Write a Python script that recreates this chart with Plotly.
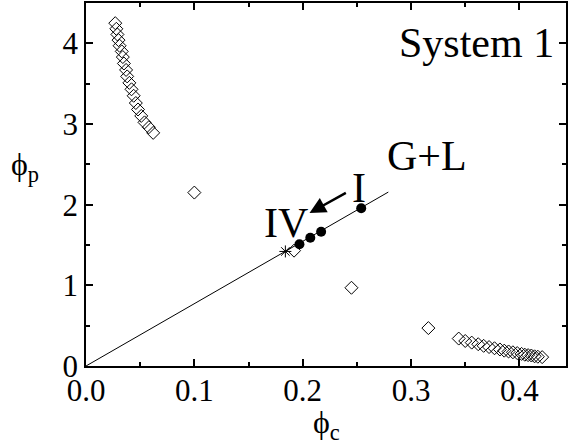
import plotly.graph_objects as go

# Top-left branch (open diamonds)
tl_x = [0.027, 0.028, 0.029, 0.030, 0.031, 0.033, 0.034, 0.035, 0.037, 0.038,
        0.040, 0.042, 0.044, 0.046, 0.048, 0.051, 0.054, 0.058, 0.062]
tl_y = [4.25, 4.18, 4.11, 4.04, 3.97, 3.90, 3.83, 3.75, 3.67, 3.59,
        3.51, 3.43, 3.35, 3.26, 3.18, 3.10, 3.02, 2.96, 2.89]

# Scattered isolated diamonds
iso_x = [0.100, 0.192, 0.245, 0.316]
iso_y = [2.15, 1.43, 0.97, 0.47]

# Bottom-right branch (open diamonds)
br_x = [0.344, 0.350, 0.356, 0.362, 0.367, 0.372, 0.377, 0.382, 0.386, 0.390,
        0.394, 0.398, 0.402, 0.405, 0.408, 0.411, 0.414, 0.417, 0.421]
br_y = [0.34, 0.31, 0.29, 0.27, 0.25, 0.235, 0.22, 0.205, 0.19, 0.18,
        0.17, 0.16, 0.15, 0.14, 0.135, 0.13, 0.12, 0.115, 0.11]

# Filled points (systems I..IV)
fill_x = [0.197, 0.207, 0.217, 0.254]
fill_y = [1.51, 1.59, 1.665, 1.955]

# Star point
star_x = [0.184]
star_y = [1.42]

# G+L line
line_x = [0.0, 0.279]
line_y = [0.0, 2.156]

FONT = "Liberation Serif, 'Times New Roman', Times, serif"

fig = go.Figure()
fig.add_trace(go.Scatter(x=line_x, y=line_y, mode="lines",
                         line=dict(color="black", width=1), showlegend=False))
fig.add_trace(go.Scatter(x=tl_x + iso_x + br_x, y=tl_y + iso_y + br_y, mode="markers",
                         marker=dict(symbol="diamond-open", size=10, color="black",
                                     line=dict(width=1, color="black")),
                         showlegend=False))
fig.add_trace(go.Scatter(x=star_x, y=star_y, mode="markers",
                         marker=dict(symbol="asterisk-open", size=10, color="black",
                                     line=dict(width=1, color="black")),
                         showlegend=False))
fig.add_trace(go.Scatter(x=fill_x, y=fill_y, mode="markers",
                         marker=dict(symbol="circle", size=10, color="black"),
                         showlegend=False))

axis_common = dict(
    showline=True, linecolor="black", linewidth=1.5, mirror="ticks",
    ticks="inside", ticklen=7, tickwidth=1.5, tickcolor="black",
    showgrid=False, zeroline=False,
    tickfont=dict(family=FONT, size=31, color="black"),
)

fig.update_xaxes(range=[0, 0.443], tickvals=[0.0, 0.1, 0.2, 0.3, 0.4],
                 ticktext=["0.0", "0.1", "0.2", "0.3", "0.4"],
                 ticklabelstandoff=-4,
                 minor=dict(tickvals=[0.05, 0.15, 0.25, 0.35], ticks="inside",
                            ticklen=4, tickwidth=1.5, tickcolor="black"),
                 **axis_common)
fig.update_yaxes(range=[0, 4.5], tickvals=[0, 1, 2, 3, 4],
                 ticktext=["0", "1", "2", "3", "4"],
                 minor=dict(tickvals=[0.5, 1.5, 2.5, 3.5], ticks="inside",
                            ticklen=4, tickwidth=1.5, tickcolor="black"),
                 **axis_common)

annotations = [
    dict(text="System 1", x=0.434, y=4.0, xref="x", yref="y", xanchor="right",
         yanchor="middle", showarrow=False, font=dict(family=FONT, size=42, color="black")),
    dict(text="G+L", x=0.315, y=2.6, xref="x", yref="y", xanchor="center",
         yanchor="middle", showarrow=False, font=dict(family=FONT, size=42, color="black")),
    dict(text="I", x=0.252, y=2.21, xref="x", yref="y", xanchor="center",
         yanchor="middle", showarrow=False, font=dict(family=FONT, size=42, color="black")),
    dict(text="IV", x=0.185, y=1.77, xref="x", yref="y", xanchor="center",
         yanchor="middle", showarrow=False, font=dict(family=FONT, size=42, color="black")),
    dict(text="", x=0.2063, y=1.896, ax=0.2412, ay=2.156, xref="x", yref="y",
         axref="x", ayref="y", showarrow=True, arrowhead=2, arrowsize=1.3,
         arrowwidth=2.5, arrowcolor="black"),
    dict(text="ϕ<sub>c</sub>", x=0.5, y=-0.10, xref="paper", yref="paper",
         xanchor="center", yanchor="top", showarrow=False,
         font=dict(family=FONT, size=32, color="black")),
    dict(text="ϕ<sub>p</sub>", x=-0.16, y=0.55, xref="paper", yref="paper",
         xanchor="left", yanchor="middle", showarrow=False,
         font=dict(family=FONT, size=32, color="black")),
]

fig.update_layout(
    width=569, height=446,
    margin=dict(l=86, r=1, t=3, b=80),
    paper_bgcolor="white", plot_bgcolor="white",
    annotations=annotations,
    showlegend=False,
)

fig.write_html("out.html")
